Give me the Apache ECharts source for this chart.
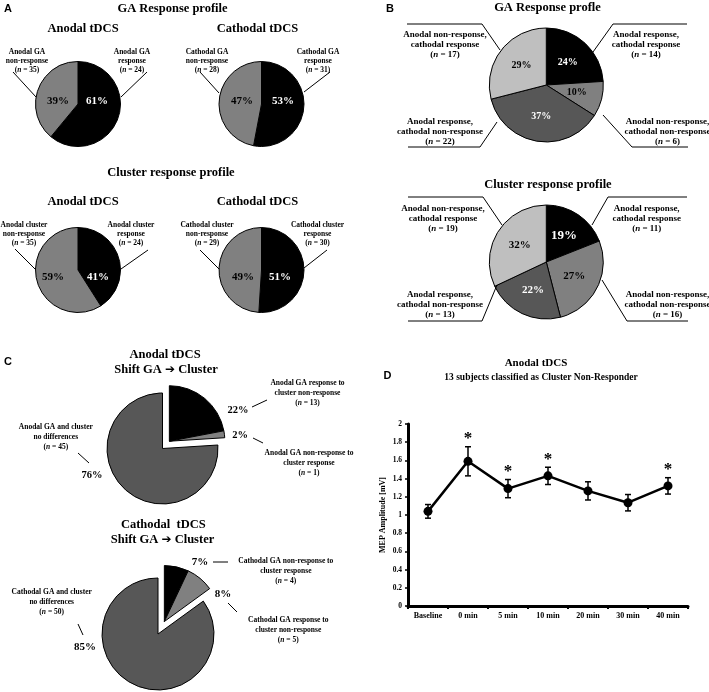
<!DOCTYPE html>
<html><head><meta charset="utf-8">
<script src="https://cdn.jsdelivr.net/npm/echarts@6/dist/echarts.min.js"></script>
<style>html,body{margin:0;padding:0;background:#fff}#c{width:709px;height:692px}</style>
</head><body><div id="c"></div>
<script>
// ---------------- data ----------------
const anodalGA = [61, 39];          // response, non-response
const cathodalGA = [53, 47];
const anodalCluster = [41, 59];
const cathodalCluster = [51, 49];
const profileCats = ['Anodal response, cathodal response', 'Anodal non-response, cathodal non-response',
                     'Anodal response, cathodal non-response', 'Anodal non-response, cathodal response'];
const gaProfile = [24, 10, 37, 29];
const clusterProfile = [19, 27, 22, 32];
const shiftAnodalCats = ['GA response to cluster non-response', 'GA non-response to cluster response', 'no differences'];
const shiftAnodal = [22, 2, 76];
const shiftCathodalCats = ['GA non-response to cluster response', 'GA response to cluster non-response', 'no differences'];
const shiftCathodal = [7, 8, 85];
const timeCats = ['Baseline', '0 min', '5 min', '10 min', '20 min', '30 min', '40 min'];
const mepMean = [1.04, 1.59, 1.29, 1.43, 1.265, 1.135, 1.32];
const mepErr = [0.075, 0.16, 0.10, 0.095, 0.10, 0.09, 0.09];
const mepSig = [false, true, true, true, false, false, true];
const yTicks = [0, 0.2, 0.4, 0.6, 0.8, 1, 1.2, 1.4, 1.6, 1.8, 2];

// ---------------- styles ----------------
const SERIF = '"Liberation Serif", "Times New Roman", serif';
const SANS = '"Liberation Sans", Arial, sans-serif';
const BLACK = '#000000', GRAY = '#808080', DARK = '#575757', LIGHT = '#bfbfbf', NONE = 'rgba(0,0,0,0)';

function pie(values, colors, textColors, center, radius, opts) {
  opts = opts || {};
  const s = {
    type: 'pie', center: center, radius: radius, startAngle: 90, clockwise: true,
    silent: true, avoidLabelOverlap: false,
    itemStyle: { borderColor: '#000', borderWidth: 1 },
    label: { show: opts.noLabel ? false : true, position: 'inside', formatter: '{c}%',
             fontFamily: SERIF, fontWeight: 'bold', fontSize: opts.fontSize || 11 },
    labelLine: { show: false },
    emphasis: { disabled: true },
    data: values.map((v, i) => ({
      value: v,
      itemStyle: colors[i] === NONE ? { color: NONE, borderWidth: 0 } : { color: colors[i] },
      label: { color: textColors[i], fontSize: (opts.sizes && opts.sizes[i]) || opts.fontSize || 11 }
    }))
  };
  if (opts.labelPos) {
    const lp = opts.labelPos;
    s.labelLayout = function (p) {
      const q = lp[p.dataIndex];
      return { x: q[0], y: q[1], align: 'center', verticalAlign: 'middle' };
    };
  }
  return s;
}

// pie with some slices pulled out together along their common bisector
function explodedPie(values, colors, center, radius, explode, offset, labelPos, fontSize) {
  const total = values.reduce((a, b) => a + b, 0);
  let acc = 0, a0 = null, a1 = null;
  values.forEach((v, i) => { if (explode[i]) { if (a0 === null) a0 = acc; a1 = acc + v; } acc += v; });
  const mid = ((a0 + a1) / 2) / total * Math.PI * 2;
  const shifted = [center[0] + Math.sin(mid) * offset, center[1] - Math.cos(mid) * offset];
  const baseColors = colors.map((c, i) => explode[i] ? NONE : c);
  const outColors = colors.map((c, i) => explode[i] ? c : NONE);
  const txtColors = values.map(() => '#000');
  return [
    pie(values, baseColors, txtColors, center, radius, { noLabel: true }),
    pie(values, outColors, txtColors, shifted, radius, { noLabel: true }),
    pie(values, values.map(() => NONE), txtColors, center, radius, { fontSize: fontSize, labelPos: labelPos })
  ];
}

// ---------------- annotation helpers ----------------
function txt(x, y, s, size, font, weight) {
  return { type: 'text', silent: true, z: 50,
    style: { text: s, x: x, y: y, fill: '#000', fontSize: size, fontFamily: font || SERIF,
             fontWeight: weight || 'bold', align: 'center', verticalAlign: 'middle',
             textAlign: 'center', textVerticalAlign: 'middle' } };
}
function note(x, y, lines, size, lh) {
  return { type: 'text', silent: true, z: 50,
    style: { text: lines.join('\n'), x: x, y: y, fill: '#000', fontSize: size, fontFamily: SERIF,
             fontWeight: 'bold', lineHeight: lh, align: 'center', verticalAlign: 'middle',
             textAlign: 'center', textVerticalAlign: 'middle',
             rich: { i: { fontStyle: 'italic', fontWeight: 'bold', fontSize: size, fontFamily: SERIF, lineHeight: lh } } } };
}
function pl(points) {
  return { type: 'polyline', silent: true, z: 50, shape: { points: points },
           style: { stroke: '#000', lineWidth: 1, fill: null } };
}
const n = v => '({i|n} = ' + v + ')';
const ARROW = 'Shift GA {a|\u2794} Cluster';
function shiftTitle(x, y) {
  return { type: 'text', silent: true, z: 50,
    style: { text: ARROW, x: x, y: y, fill: '#000', fontSize: 12.5, fontFamily: SERIF, fontWeight: 'bold',
             align: 'center', verticalAlign: 'middle', textAlign: 'center', textVerticalAlign: 'middle',
             rich: { a: { fontSize: 12, fontFamily: '"DejaVu Sans", sans-serif', fontWeight: 'bold' } } } };
}

const AS = 7.5, ALH = 9.2, BS = 9, BLH = 10, CS = 7.5, CLH = 10;
const graphics = [
  // panel A
  txt(8, 9, 'A', 11, SANS), txt(172.5, 9, 'GA Response profile', 12.5),
  txt(83, 28.5, 'Anodal tDCS', 12.5), txt(257.5, 28.5, 'Cathodal tDCS', 12.5),
  txt(171, 173, 'Cluster response profile', 12.5),
  txt(83, 202, 'Anodal tDCS', 12.5), txt(257.5, 202, 'Cathodal tDCS', 12.5),
  note(27, 61, ['Anodal GA', 'non-response', n(35)], AS, ALH),
  note(132, 61, ['Anodal GA', 'response', n(24)], AS, ALH),
  note(207, 61, ['Cathodal GA', 'non-response', n(28)], AS, ALH),
  note(318, 61, ['Cathodal GA', 'response', n(31)], AS, ALH),
  note(24, 234, ['Anodal cluster', 'non-response', n(35)], AS, ALH),
  note(131, 234, ['Anodal cluster', 'response', n(24)], AS, ALH),
  note(207, 234, ['Cathodal cluster', 'non-response', n(29)], AS, ALH),
  note(317.5, 234, ['Cathodal cluster', 'response', n(30)], AS, ALH),
  pl([[13, 72], [36, 97]]), pl([[147, 72], [121, 97]]), pl([[200, 72], [219, 93]]), pl([[330, 72], [304, 92]]),
  pl([[15, 249], [36, 270]]), pl([[148, 250], [121, 269]]), pl([[200, 250], [219, 269]]), pl([[327, 250], [304, 268]]),
  // panel B
  txt(390, 9, 'B', 11, SANS), txt(547.5, 8, 'GA Response profle', 12.5),
  note(445, 45, ['Anodal non-response,', 'cathodal response', n(17)], BS, BLH),
  note(646, 45, ['Anodal response,', 'cathodal response', n(14)], BS, BLH),
  note(440, 131.7, ['Anodal response,', 'cathodal non-response', n(22)], BS, BLH),
  note(667.5, 131.7, ['Anodal non-response,', 'cathodal non-response', n(6)], BS, BLH),
  pl([[407, 24], [482, 24], [500, 50]]), pl([[687, 24], [613, 24], [593, 52]]),
  pl([[408, 147], [480, 147], [497, 122]]), pl([[603, 115], [632, 147], [688, 147]]),
  txt(548, 185, 'Cluster response profile', 12.5),
  note(443, 218.3, ['Anodal non-response,', 'cathodal response', n(19)], BS, BLH),
  note(646.7, 218.3, ['Anodal response,', 'cathodal response', n(11)], BS, BLH),
  note(440, 305, ['Anodal response,', 'cathodal non-response', n(13)], BS, BLH),
  note(667.5, 305, ['Anodal non-response,', 'cathodal non-response', n(16)], BS, BLH),
  pl([[408, 197], [483, 197], [502, 225]]), pl([[687, 197], [608, 197], [592, 225]]),
  pl([[408, 321], [482, 321], [497, 285]]), pl([[602, 280], [627, 321], [688, 321]]),
  // panel C
  txt(8, 362, 'C', 11, SANS),
  txt(165, 355, 'Anodal tDCS', 12.5), shiftTitle(166, 370),
  note(307.5, 393, ['Anodal GA response to', 'cluster non-response', n(13)], CS, CLH),
  note(309, 463.3, ['Anodal GA non-response to', 'cluster response', n(1)], CS, CLH),
  note(55.8, 437.5, ['Anodal GA and cluster', 'no differences', n(45)], CS, CLH),
  pl([[252, 407], [267, 400]]), pl([[253, 438], [263, 443]]), pl([[78, 453], [89, 463]]),
  txt(163.3, 525, 'Cathodal  tDCS', 12.5), shiftTitle(162.5, 540),
  note(285.8, 571, ['Cathodal GA non-response to', 'cluster response', n(4)], CS, CLH),
  note(288.3, 630, ['Cathodal GA response to', 'cluster non-response', n(5)], CS, CLH),
  note(51.7, 602.5, ['Cathodal GA and cluster', 'no differences', n(50)], CS, CLH),
  pl([[213, 562], [228, 562]]), pl([[228, 603], [237, 612]]), pl([[78, 624], [83, 635]]),
  // panel D
  txt(387.5, 376, 'D', 11, SANS),
  txt(536, 363, 'Anodal tDCS', 11), txt(541, 378, '13 subjects classified as Cluster Non-Responder', 9.5)
];

// ---------------- series ----------------
const series = [
  pie(anodalGA, [BLACK, GRAY], ['#fff', '#000'], [78, 104], 42.5, { labelPos: [[97, 101], [58, 101]] }),
  pie(cathodalGA, [BLACK, GRAY], ['#fff', '#000'], [261.5, 104], 42.5, { labelPos: [[283, 101], [242, 101]] }),
  pie(anodalCluster, [BLACK, GRAY], ['#fff', '#000'], [78, 270], 42.5, { labelPos: [[98, 277], [53, 277]] }),
  pie(cathodalCluster, [BLACK, GRAY], ['#fff', '#000'], [261.5, 270], 42.5, { labelPos: [[280, 277], [243, 277]] }),
  pie(gaProfile, [BLACK, GRAY, DARK, LIGHT], ['#fff', '#000', '#fff', '#000'], [546.3, 85], 57, { fontSize: 10 }),
  pie(clusterProfile, [BLACK, GRAY, DARK, LIGHT], ['#fff', '#000', '#fff', '#000'], [546.3, 262], 57,
      { fontSize: 11, sizes: [13, 11, 11, 11] })
].concat(
  explodedPie(shiftAnodal, [BLACK, GRAY, DARK], [162.5, 448.5], 55.5, [1, 1, 0], 10,
              [[238, 410], [240, 435], [92, 475]], 10.5),
  explodedPie(shiftCathodal, [BLACK, GRAY, DARK], [158, 634], 56, [1, 1, 0], 14,
              [[200, 562], [223, 594], [85, 647]], 11)
).concat([
  {
    type: 'custom', xAxisIndex: 0, yAxisIndex: 0, silent: true, z: 2,
    data: mepMean.map((m, i) => [i, m - mepErr[i], m + mepErr[i], mepSig[i] ? 1 : 0]),
    encode: { x: 0, y: [1, 2] },
    renderItem: function (params, api) {
      const i = api.value(0);
      const lo = api.coord([i, api.value(1)]);
      const hi = api.coord([i, api.value(2)]);
      const w = 3;
      const st = { stroke: '#000', lineWidth: 1.5 };
      const ch = [
        { type: 'line', shape: { x1: hi[0], y1: hi[1], x2: lo[0], y2: lo[1] }, style: st },
        { type: 'line', shape: { x1: hi[0] - w, y1: hi[1], x2: hi[0] + w, y2: hi[1] }, style: st },
        { type: 'line', shape: { x1: lo[0] - w, y1: lo[1], x2: lo[0] + w, y2: lo[1] }, style: st }
      ];
      if (api.value(3)) {
        ch.push({ type: 'text', style: { text: '*', x: hi[0], y: hi[1] - 8, fill: '#000',
          font: 'bold 17px ' + SERIF, align: 'center', verticalAlign: 'middle',
          textAlign: 'center', textVerticalAlign: 'middle' } });
      }
      return { type: 'group', children: ch };
    }
  },
  {
    type: 'line', xAxisIndex: 0, yAxisIndex: 0, silent: true, z: 3, data: mepMean,
    symbol: 'circle', symbolSize: 9,
    lineStyle: { color: '#000', width: 2.5 }, itemStyle: { color: '#000' }
  }
]);

const chart = echarts.init(document.getElementById('c'), null, { renderer: 'canvas' });
chart.setOption({
  animation: false,
  backgroundColor: '#fff',
  textStyle: { fontFamily: SERIF },
  grid: { left: 408, top: 424, width: 280, height: 182, containLabel: false },
  xAxis: {
    type: 'category', data: timeCats, boundaryGap: true,
    axisLine: { show: true, lineStyle: { color: '#000', width: 3 } },
    axisTick: { show: true, interval: 0, length: 3, lineStyle: { color: '#000', width: 2 } },
    axisLabel: { interval: 0, color: '#000', fontFamily: SERIF, fontWeight: 'bold', fontSize: 8, margin: 6 },
    splitLine: { show: false }
  },
  yAxis: {
    type: 'value', min: yTicks[0], max: yTicks[yTicks.length - 1], interval: 0.2,
    name: 'MEP Amplitude [mV]', nameLocation: 'middle', nameRotate: 90, nameGap: 21,
    nameTextStyle: { color: '#000', fontFamily: SERIF, fontWeight: 'bold', fontSize: 8 },
    axisLine: { show: true, lineStyle: { color: '#000', width: 3 } },
    axisTick: { show: true, length: 3, lineStyle: { color: '#000', width: 1.5 } },
    axisLabel: { color: '#000', fontFamily: SERIF, fontWeight: 'bold', fontSize: 7.5, margin: 6 },
    splitLine: { show: false }
  },
  series: series,
  graphic: { elements: graphics }
});
</script></body></html>
